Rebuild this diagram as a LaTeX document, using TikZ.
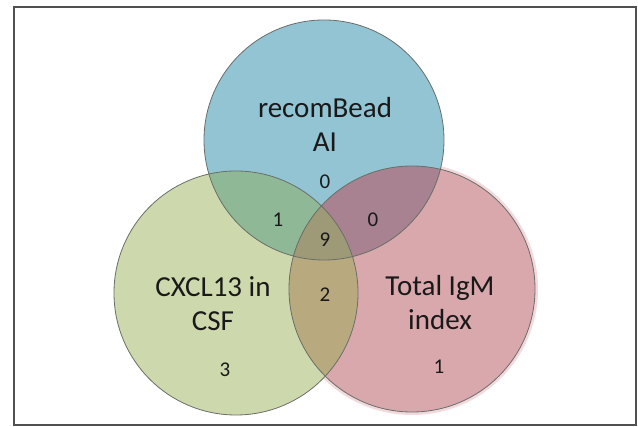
\documentclass[tikz,border=0pt]{standalone}
\usepackage{fontspec}
\setmainfont{Carlito}
\definecolor{bonly}{RGB}{146,196,212}
\definecolor{gonly}{RGB}{205,217,172}
\definecolor{ronly}{RGB}{216,168,172}
\definecolor{bg}{RGB}{143,184,150}
\definecolor{br}{RGB}{168,130,145}
\definecolor{gr}{RGB}{184,170,126}
\definecolor{bgr}{RGB}{158,153,118}
\definecolor{edge}{RGB}{105,110,105}
\definecolor{glow}{RGB}{242,218,220}
\definecolor{txt}{RGB}{25,25,25}
\definecolor{frame}{RGB}{80,80,80}
\tikzset{
  lbl/.style={font=\fontsize{29}{34}\selectfont, text=txt, align=center, inner sep=0pt},
  num/.style={font=\fontsize{21}{23}\selectfont, text=txt, inner sep=0pt},
  rim/.style={draw=edge, line width=0.8pt},
}
\begin{document}
\begin{tikzpicture}[x=1pt,y=-1pt]
\useasboundingbox (0,0) rectangle (638,427);
\fill[white] (0,0) rectangle (638,427);
\def\B{(324,140) circle (120)}
\def\G{(236,293) circle (122)}
\def\R{(412,289) circle (123)}
% faint glow round red circle
\draw[glow, line width=3pt] (412,289) circle (124.5);
% single regions
\fill[bonly] \B;
\fill[gonly] \G;
\fill[ronly] \R;
% pairwise
\begin{scope}\clip \B; \fill[bg] \G; \end{scope}
\begin{scope}\clip \B; \fill[br] \R; \end{scope}
\begin{scope}\clip \G; \fill[gr] \R; \end{scope}
% triple
\begin{scope}\clip \B; \clip \G; \fill[bgr] \R; \end{scope}
% outlines
\draw[rim] \B;
\draw[rim] \G;
\draw[rim] \R;
% frame
\draw[frame, line width=1.4pt] (14,7) rectangle (636,425);
% labels
\node[lbl] (tb) at (325,124) {recomBead\\AI};
\node[lbl] (tg) at (213,304) {CXCL13 in\\CSF};
\node[lbl] (tr) at (440,303) {Total IgM\\index};
\node[num] (nb) at (325,182) {0};
\node[num] (nbg) at (278,220) {1};
\node[num] (nbr) at (373,220) {0};
\node[num] (nbgr) at (325,240) {9};
\node[num] (ngr) at (325,295) {2};
\node[num] (ng) at (225,370) {3};
\node[num] (nr) at (439,367) {1};
\end{tikzpicture}
\end{document}
